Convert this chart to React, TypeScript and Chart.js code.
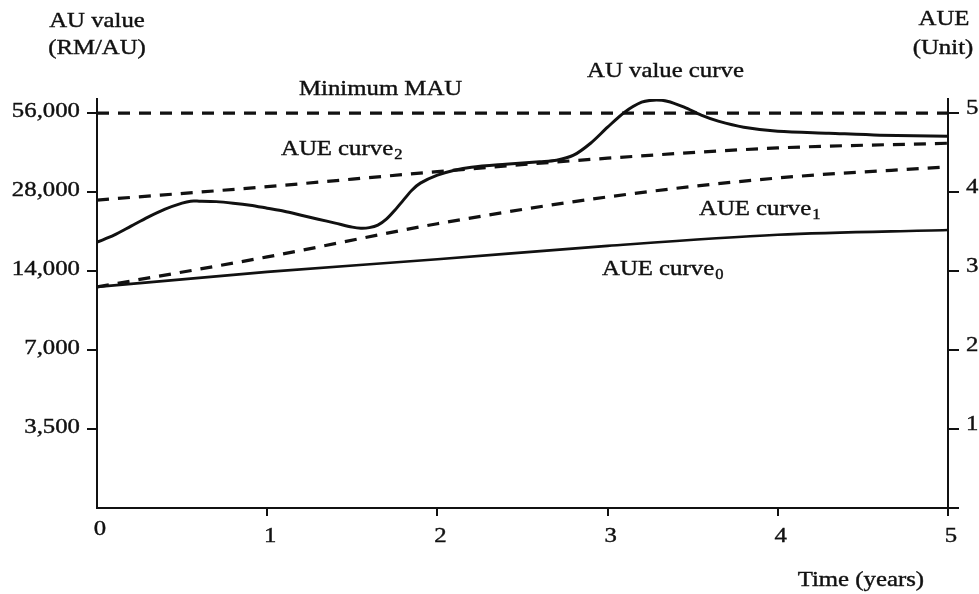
import React, { useEffect, useRef } from "react";
import { Chart, registerables } from "chart.js";

Chart.register(...registerables);

// ---------- data ----------
const YEAR_TICKS = [1, 2, 3, 4, 5];
const YEAR_LABELS = ["0", "1", "2", "3", "4", "5"];
const RM_TICKS = [3500, 7000, 14000, 28000, 56000];
const RM_TICK_LABELS = ["3,500", "7,000", "14,000", "28,000", "56,000"];
const AUE_TICKS = [0, 1, 2, 3, 4, 5];
const AUE_TICK_LABELS = ["1", "2", "3", "4", "5"];

// AU value curve (RM/AU)
const AU_YEARS = [
  0, 0.1, 0.2, 0.3, 0.4, 0.5, 0.55, 0.6, 0.7, 0.8, 0.9, 1.0, 1.1, 1.2, 1.3, 1.4, 1.5, 1.55, 1.6, 1.65,
  1.7, 1.75, 1.8, 1.85, 1.9, 2.0, 2.1, 2.2, 2.4, 2.6, 2.7, 2.8, 2.9, 3.0, 3.1, 3.2, 3.27, 3.35, 3.45,
  3.55, 3.65, 3.8, 4.0, 4.3, 4.6, 5,
];
const AU_VALUES = [
  18050, 19200, 20780, 22490, 24120, 25430, 25870, 25870, 25770, 25430, 24970, 24330, 23690, 22880,
  22090, 21340, 20600, 20410, 20510, 20960, 22090, 23910, 26110, 28490, 30310, 32500, 33950, 34860,
  35780, 36590, 37070, 38730, 43030, 49530, 56500, 61670, 62790, 62220, 59030, 55040, 52220, 49530,
  47820, 46990, 46180, 45770,
];

const AUE_YEARS = [0, 1, 2, 3, 4, 5];
const AUE_CURVE0 = [2.8, 2.99, 3.15, 3.32, 3.46, 3.52];
const AUE_CURVE1 = [2.8, 3.18, 3.6, 3.94, 4.18, 4.32];
const AUE_CURVE2 = [3.9, 4.07, 4.26, 4.43, 4.56, 4.62];

const MIN_MAU_YEARS = [0, 5];
const MIN_MAU = [56000, 56000];

const RM_MIN = 1750;
const AUE_MAX = 5.18;
const RM_MAX = RM_MIN * Math.pow(2, AUE_MAX);

const CURVE_LABELS = [
  { text: "Minimum MAU", sub: "", year: 1.187, aue: 5.228 },
  { text: "AU value curve", sub: "", year: 2.879, aue: 5.456 },
  { text: "AUE curve", sub: "2", year: 1.081, aue: 4.468 },
  { text: "AUE curve", sub: "1", year: 3.537, aue: 3.709 },
  { text: "AUE curve", sub: "0", year: 2.967, aue: 2.949 },
];

// ---------- styling ----------
const FONT = '"Liberation Serif", "Times New Roman", serif';
const SX = 1.18;
const INK = "#111";

function drawText(
  ctx: CanvasRenderingContext2D,
  text: string,
  x: number,
  y: number,
  align: CanvasTextAlign,
  size = 21
): number {
  ctx.save();
  ctx.translate(x, y);
  ctx.scale(SX, 1);
  ctx.font = `${size}px ${FONT}`;
  ctx.textAlign = align;
  ctx.textBaseline = "alphabetic";
  ctx.fillStyle = INK;
  ctx.strokeStyle = INK;
  ctx.lineWidth = 0.4;
  ctx.fillText(text, 0, 0);
  ctx.strokeText(text, 0, 0);
  const w = ctx.measureText(text).width * SX;
  ctx.restore();
  return w;
}

const textPlugin = {
  id: "textPlugin",
  afterDraw(chart: any) {
    const ctx: CanvasRenderingContext2D = chart.ctx;
    const { left, right, bottom } = chart.chartArea;
    const xs = chart.scales.x;
    const yL = chart.scales.yL;
    const yR = chart.scales.yR;

    RM_TICKS.forEach((v, i) => {
      drawText(ctx, RM_TICK_LABELS[i], left - 17, yL.getPixelForValue(v) + 4, "right");
    });
    AUE_TICK_LABELS.forEach((lab, i) => {
      drawText(ctx, lab, right + 18, yR.getPixelForValue(i + 1) + 1, "left");
    });
    YEAR_LABELS.forEach((lab, i) => {
      const off = i === 0 ? 27 : 34;
      drawText(ctx, lab, xs.getPixelForValue(i) + 3, bottom + off, "center");
    });

    drawText(ctx, "AU value", left, 27, "center");
    drawText(ctx, "(RM/AU)", left, 54, "center");
    drawText(ctx, "AUE", right - 4, 25, "center");
    drawText(ctx, "(Unit)", right - 5, 54, "center");
    drawText(ctx, "Time (years)", xs.getPixelForValue(4.5) - 2, bottom + 78, "center");

    CURVE_LABELS.forEach((c) => {
      const x = xs.getPixelForValue(c.year);
      const y = yR.getPixelForValue(c.aue);
      const w = drawText(ctx, c.text, x, y, "left");
      if (c.sub) drawText(ctx, c.sub, x + w + 1, y + 4, "left", 14);
    });
  },
};

function pts(xs: number[], ys: number[]) {
  return xs.map((x, i) => ({ x, y: ys[i] }));
}

export default function App() {
  const ref = useRef<HTMLCanvasElement>(null);

  useEffect(() => {
    const lineBase = {
      borderColor: INK,
      borderWidth: 3,
      pointRadius: 0,
      fill: false,
      cubicInterpolationMode: "monotone" as const,
      borderCapStyle: "butt" as const,
    };
    const chart = new Chart(ref.current as HTMLCanvasElement, {
      type: "line",
      data: {
        datasets: [
          { ...lineBase, label: "Minimum MAU", data: pts(MIN_MAU_YEARS, MIN_MAU), yAxisID: "yL", borderDash: [12, 9], borderWidth: 3.2 },
          {
            ...lineBase,
            label: "AU value curve",
            data: pts(AU_YEARS, AU_VALUES),
            yAxisID: "yL",
            cubicInterpolationMode: "default",
            tension: 0.3,
            borderJoinStyle: "round",
          },
          { ...lineBase, label: "AUE curve2", data: pts(AUE_YEARS, AUE_CURVE2), yAxisID: "yR", borderDash: [12, 9], borderWidth: 3.2 },
          { ...lineBase, label: "AUE curve1", data: pts(AUE_YEARS, AUE_CURVE1), yAxisID: "yR", borderDash: [12, 9], borderWidth: 3.2 },
          { ...lineBase, label: "AUE curve0", data: pts(AUE_YEARS, AUE_CURVE0), yAxisID: "yR", borderWidth: 2.6 },
        ] as any,
      },
      options: {
        responsive: false,
        animation: false,
        events: [],
        layout: { padding: { top: 99, left: 0, right: 0, bottom: 0 } },
        plugins: { legend: { display: false }, tooltip: { enabled: false } },
        scales: {
          x: {
            type: "linear",
            position: "bottom",
            min: 0,
            max: 5,
            ticks: { display: false },
            grid: { drawOnChartArea: false, drawTicks: true, tickLength: 8, color: INK, lineWidth: 2 },
            border: { display: true, color: INK, width: 2 },
            afterBuildTicks: (s: any) => {
              s.ticks = YEAR_TICKS.map((v) => ({ value: v }));
            },
            afterFit: (s: any) => {
              s.height = 86;
            },
          },
          yL: {
            type: "logarithmic",
            position: "left",
            min: RM_MIN,
            max: RM_MAX,
            ticks: { display: false },
            grid: { drawOnChartArea: false, drawTicks: true, tickLength: 10, color: INK, lineWidth: 2 },
            border: { display: true, color: INK, width: 2 },
            afterBuildTicks: (s: any) => {
              s.ticks = RM_TICKS.map((v) => ({ value: v }));
            },
            afterFit: (s: any) => {
              s.width = 97;
            },
          },
          yR: {
            type: "linear",
            position: "right",
            min: 0,
            max: AUE_MAX,
            ticks: { display: false },
            grid: { drawOnChartArea: false, drawTicks: true, tickLength: 11, color: INK, lineWidth: 2 },
            border: { display: true, color: INK, width: 2 },
            afterBuildTicks: (s: any) => {
              s.ticks = AUE_TICKS.map((v) => ({ value: v }));
            },
            afterFit: (s: any) => {
              s.width = 31;
            },
          },
        },
      } as any,
      plugins: [textPlugin],
    });
    return () => chart.destroy();
  }, []);

  return (
    <div style={{ position: "absolute", left: 0, top: 0, width: 979, height: 594, background: "#fff" }}>
      <canvas ref={ref} width={979} height={594} style={{ display: "block" }} />
    </div>
  );
}
